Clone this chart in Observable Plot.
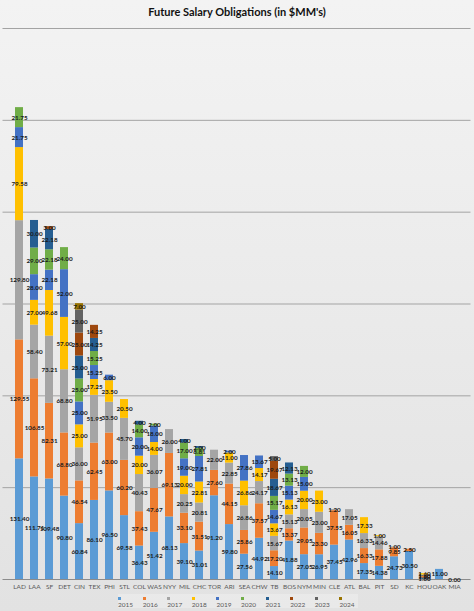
<!DOCTYPE html>
<html>
<head>
<meta charset="utf-8">
<script src="https://cdn.jsdelivr.net/npm/d3@7"></script>
<script src="https://cdn.jsdelivr.net/npm/@observablehq/plot@0.6"></script>
<style>
  html, body { margin: 0; padding: 0; }
  body {
    width: 474px; height: 611px; overflow: hidden; box-sizing: border-box;
    background: linear-gradient(#f3f3f3, #e2e2e2);
    font-family: Lato, "Open Sans", sans-serif;
    position: relative;
  }
  #title {
    height: 22px; line-height: 24px; text-align: center;
    font-weight: bold; font-size: 11px; color: #111;
  }
  #chart svg { display: block; background: transparent; }
  #legend {
    position: absolute; left: 118px; top: 594px; width: 240px; height: 14px;
    display: flex; justify-content: center; align-items: center; gap: 6px;
    font-size: 6.5px; color: #595959; background: rgba(255,255,255,0.25);
  }
  #legend span.sw { display: inline-block; width: 3px; height: 3px; margin-right: 2px; vertical-align: middle; }
</style>
</head>
<body>
<div id="title">Future Salary Obligations (in $MM's)</div>
<div id="chart"></div>
<div id="legend"></div>
<script>
const teams = ["LAD","LAA","SF","DET","CIN","TEX","PHI","STL","COL","WAS","NYY","MIL","CHC","TOR","ARI","SEA","CHW","TB","BOS","NYM","MIN","CLE","ATL","BAL","PIT","SD","KC","HOU","OAK","MIA"];
const years = ["2015","2016","2017","2018","2019","2020","2021","2022","2023","2024"];
const colors = ["#5B9BD5","#ED7D31","#A5A5A5","#FFC000","#4472C4","#70AD47","#255E91","#9E480E","#636363","#997300"];

const y2015 = [131.40,111.71,109.48,90.80,60.84,86.10,96.50,69.58,36.43,51.42,68.13,39.10,31.01,91.20,59.80,27.56,44.92,14.10,41.88,27.05,26.95,37.45,42.96,17.35,14.38,24.73,30.50,1.60,11.00,0.00];
const y2016 = [129.55,106.85,82.31,68.80,46.54,62.45,63.00,60.20,37.43,47.67,69.13,33.10,31.51,27.60,44.15,25.86,37.57,17.20,13.37,29.05,23.30,37.55,16.05,16.33,17.88,9.85,2.50,1.60,null,null];
const y2017 = [129.80,58.40,73.21,68.80,36.00,51.95,33.50,45.70,40.43,36.07,26.00,20.25,20.81,22.00,22.85,26.86,24.17,15.67,15.13,20.05,23.00,1.20,17.05,16.33,14.46,1.00,null,1.60,null,null];
const y2018 = [79.58,27.00,49.68,57.00,25.00,17.25,23.50,20.50,20.00,14.00,null,20.00,22.81,null,11.00,26.86,14.17,13.67,16.13,20.00,23.00,null,null,17.33,1.00,null,null,1.60,null,null];
const y2019 = [21.75,28.00,22.18,52.00,25.00,15.25,6.00,null,20.00,18.00,null,19.00,27.81,null,2.00,27.86,13.67,14.67,15.13,15.00,null,null,null,null,null,null,null,null,null,null];
const y2020 = [21.75,29.00,22.18,24.00,25.00,15.25,null,null,14.00,2.00,null,17.00,8.81,null,null,null,null,15.17,13.13,12.00,null,null,null,null,null,null,null,null,null,null];
const y2021 = [null,30.00,22.18,null,25.00,14.25,null,null,4.00,null,null,4.00,2.00,null,null,null,null,18.67,12.13,null,null,null,null,null,null,null,null,null,null,null];
const y2022 = [null,null,3.00,null,25.00,14.25,null,null,null,null,null,null,null,null,null,null,null,19.67,null,null,null,null,null,null,null,null,null,null,null,null];
const y2023 = [null,null,null,null,25.00,null,null,null,null,null,null,null,null,null,null,null,null,5.00,null,null,null,null,null,null,null,null,null,null,null,null];
const y2024 = [null,null,null,null,7.00,null,null,null,null,null,null,null,null,null,null,null,null,null,null,null,null,null,null,null,null,null,null,null,null,null];

const series = [y2015,y2016,y2017,y2018,y2019,y2020,y2021,y2022,y2023,y2024];
const data = [];
series.forEach((arr, i) => arr.forEach((v, j) => {
  if (v !== null) data.push({team: teams[j], year: years[i], value: v});
}));

const chart = Plot.plot({
  width: 474,
  height: 573,
  marginTop: 6,
  marginBottom: 16,
  marginLeft: 2.5,
  marginRight: 3.5,
  style: {background: "transparent", fontFamily: "Lato, 'Open Sans', sans-serif"},
  x: {domain: teams, padding: 0.5, label: null, tickSize: 0, tickPadding: 5},
  y: {domain: [0, 600], axis: null},
  color: {domain: years, range: colors},
  marks: [
    Plot.ruleY([100,200,300,400,500,600], {stroke: "#a3a3a3", strokeWidth: 1}),
    Plot.barY(data, Plot.stackY({x: "team", y: "value", z: "year", fill: "year", order: years})),
    Plot.ruleY([0], {stroke: "#8c8c8c", strokeWidth: 1}),
    Plot.text(data, Plot.stackY({x: "team", y: "value", z: "year", order: years,
      text: d => d.value.toFixed(2), fontSize: 6.3, fontWeight: "bold", fill: "#1a1a1a"})),
    Plot.axisX({tickSize: 0, tickPadding: 5, fontSize: 6.5, fill: "#595959", label: null})
  ]
});
document.getElementById("chart").appendChild(chart);

const legend = document.getElementById("legend");
years.forEach((y, i) => {
  const item = document.createElement("span");
  item.innerHTML = `<span class="sw" style="background:${colors[i]}"></span>${y}`;
  legend.appendChild(item);
});
</script>
</body>
</html>
